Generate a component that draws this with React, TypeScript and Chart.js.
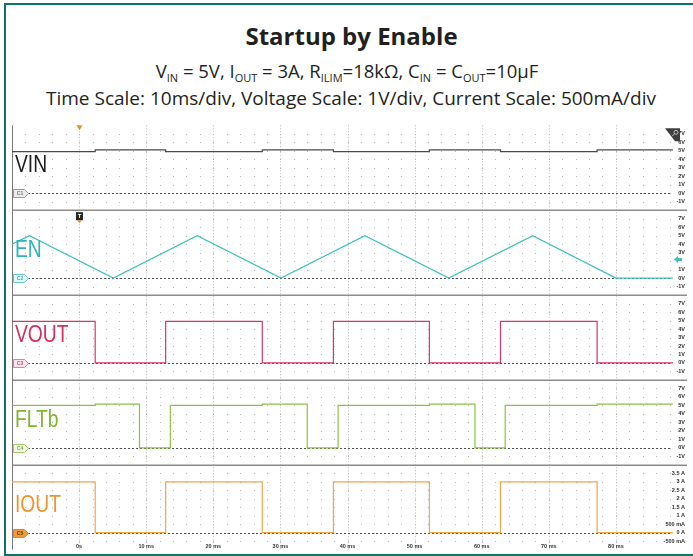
import React, { useEffect, useRef } from 'react';
import { Chart, registerables } from 'chart.js';

Chart.register(...registerables);

// ---------- DATA ----------
// time axis in ms (scope: 10 ms/div, -10 ms .. 90 ms)
const timeRange = [-10, 90];
const timeTicks = [0, 10, 20, 30, 40, 50, 60, 70, 80];
const timeTickLabels = ['0s', '10 ms', '20 ms', '30 ms', '40 ms', '50 ms', '60 ms', '70 ms', '80 ms'];

// VIN (V)
const vinTime = [-10, 2.4, 2.4, 12.9, 12.9, 27.3, 27.3, 37.9, 37.9, 52.2, 52.2, 62.8, 62.8, 77.2, 77.2, 88.5];
const vinValue = [4.9, 4.9, 5.1, 5.1, 4.9, 4.9, 5.1, 5.1, 4.9, 4.9, 5.1, 5.1, 4.9, 4.9, 5.1, 5.1];

// EN (V) - triangle drive
const enTime = [-10, -7.4, 5.1, 17.6, 30.1, 42.6, 55.1, 67.6, 80.0, 88.5];
const enValue = [4.0, 5.0, 0, 5.0, 0, 5.0, 0, 5.0, 0, 0];

// VOUT (V)
const voutTime = [-10, 2.4, 2.4, 12.9, 12.9, 27.3, 27.3, 37.9, 37.9, 52.2, 52.2, 62.8, 62.8, 77.2, 77.2, 88.5];
const voutValue = [4.9, 4.9, 0, 0, 4.9, 4.9, 0, 0, 4.9, 4.9, 0, 0, 4.9, 4.9, 0, 0];

// FLTb (V)
const fltTime = [-10, 2.4, 2.4, 9.0, 9.0, 13.6, 13.6, 27.3, 27.3, 34.0, 34.0, 38.6, 38.6, 52.2, 52.2, 59.0, 59.0, 63.5, 63.5, 77.2, 77.2, 88.5];
const fltValue = [5.0, 5.0, 5.15, 5.15, 0, 0, 5.0, 5.0, 5.15, 5.15, 0, 0, 5.0, 5.0, 5.15, 5.15, 0, 0, 5.0, 5.0, 5.15, 5.15];

// IOUT (A)
const ioutTime = [-10, 2.4, 2.4, 12.9, 12.9, 27.3, 27.3, 37.9, 37.9, 52.2, 52.2, 62.8, 62.8, 77.2, 77.2, 88.5];
const ioutValue = [3.0, 3.0, 0, 0, 3.0, 3.0, 0, 0, 3.0, 3.0, 0, 0, 3.0, 3.0, 0, 0];

// vertical scales
const voltRange = [-2, 8];
const voltTicks = [-1, 0, 1, 2, 3, 4, 5, 6, 7];
const voltTickLabels = ['-1V', '0V', '1V', '2V', '3V', '4V', '5V', '6V', '7V'];
const currentRange = [-1, 4];
const currentTicks = [-0.5, 0, 0.5, 1, 1.5, 2, 2.5, 3, 3.5];
const currentTickLabels = ['-500 mA', '0 A', '500 mA', '1 A', '1.5 A', '2 A', '2.5 A', '3 A', '3.5 A'];
const enTriggerLevel = 2.2;

// channels
const channelNames = ['VIN', 'EN', 'VOUT', 'FLTb', 'IOUT'];
const channelTags = ['C1', 'C2', 'C3', 'C4', 'C5'];
const traceColors = ['#4a4a4a', '#3fc0c0', '#d4386a', '#8ec044', '#f4a448'];
const nameColors = ['#1e1e1e', '#2db6b8', '#d3305b', '#80b52f', '#f0952e'];
const tagFills = ['#ececec', '#e4f7f7', '#fbe4eb', '#eff7e2', '#f39a38'];
const tagStrokes = ['#9a9a9a', '#62caca', '#e0809a', '#a6ca6c', '#e08a22'];
const tagTextColors = ['#777', '#4aaeb0', '#c9557a', '#7fa34a', '#5a3a10'];

const seriesTimes = [vinTime, enTime, voutTime, fltTime, ioutTime];
const seriesValues = [vinValue, enValue, voutValue, fltValue, ioutValue];
const isCurrent = [false, false, false, false, true];

const FONT = '"Liberation Sans", Arial, sans-serif';

const scopePlugin = {
  id: 'scopeDecor',
  beforeDatasetsDraw(chart: any) {
    const { ctx, chartArea: ca, scales } = chart;
    const xs = scales.x;
    ctx.save();
    // dot matrix grid
    ctx.fillStyle = '#b9b9b9';
    channelNames.forEach((_, i) => {
      const ys = scales['y' + i];
      const ticks = isCurrent[i] ? currentTicks : voltTicks;
      ticks.forEach((v) => {
        const py = Math.round(ys.getPixelForValue(v));
        for (let t = timeRange[0] + 2; t < timeRange[1]; t += 2) {
          const px = Math.round(xs.getPixelForValue(t));
          ctx.fillRect(px, py, 1, 1);
        }
      });
    });
    // major vertical dotted lines
    ctx.strokeStyle = '#bcbcbc';
    ctx.lineWidth = 1;
    ctx.setLineDash([1, 2]);
    timeTicks.forEach((t) => {
      const px = Math.round(xs.getPixelForValue(t)) + 0.5;
      ctx.beginPath();
      ctx.moveTo(px, ca.top);
      ctx.lineTo(px, ca.bottom);
      ctx.stroke();
    });
    // zero reference lines
    ctx.strokeStyle = '#505050';
    ctx.setLineDash([2, 2]);
    channelNames.forEach((_, i) => {
      const ys = scales['y' + i];
      const py = Math.round(ys.getPixelForValue(0)) + 0.5;
      ctx.beginPath();
      ctx.moveTo(ca.left + 16, py);
      ctx.lineTo(xs.getPixelForValue(88.3), py);
      ctx.stroke();
    });
    ctx.setLineDash([]);
    // panel separators
    ctx.strokeStyle = '#8c8c8c';
    ctx.lineWidth = 1.5;
    channelNames.forEach((_, i) => {
      if (i === 0) return;
      const ys = scales['y' + i];
      const py = Math.round(ys.top) + 0.25;
      ctx.beginPath();
      ctx.moveTo(ca.left, py);
      ctx.lineTo(ca.right + 10, py);
      ctx.stroke();
    });
    // left edge
    ctx.strokeStyle = '#7a7a7a';
    ctx.lineWidth = 1;
    ctx.beginPath();
    ctx.moveTo(ca.left + 0.5, ca.top);
    ctx.lineTo(ca.left + 0.5, ca.bottom);
    ctx.stroke();
    ctx.restore();
  },
  afterDatasetsDraw(chart: any) {
    const { ctx, chartArea: ca, scales } = chart;
    const xs = scales.x;
    ctx.save();
    // channel names
    channelNames.forEach((name, i) => {
      const ys = scales['y' + i];
      ctx.save();
      ctx.translate(ca.left + 3, ys.top + 47);
      ctx.scale(0.82, 1);
      ctx.font = '23.5px ' + FONT;
      ctx.fillStyle = nameColors[i];
      ctx.textBaseline = 'alphabetic';
      ctx.fillText(name, 0, 0);
      ctx.restore();
    });
    // channel tags at 0 level
    channelNames.forEach((_, i) => {
      const ys = scales['y' + i];
      const py = Math.round(ys.getPixelForValue(0)) + 0.5;
      const x0 = ca.left + 1.5;
      ctx.beginPath();
      ctx.moveTo(x0, py - 4);
      ctx.lineTo(x0 + 11, py - 4);
      ctx.lineTo(x0 + 15, py);
      ctx.lineTo(x0 + 11, py + 4);
      ctx.lineTo(x0, py + 4);
      ctx.closePath();
      ctx.fillStyle = tagFills[i];
      ctx.fill();
      ctx.strokeStyle = tagStrokes[i];
      ctx.lineWidth = 1;
      ctx.stroke();
      ctx.fillStyle = tagTextColors[i];
      ctx.font = 'bold 5px ' + FONT;
      ctx.textAlign = 'center';
      ctx.textBaseline = 'middle';
      ctx.fillText(channelTags[i], x0 + 6.5, py + 0.5);
    });
    // trigger position marker at top
    const tx = Math.round(xs.getPixelForValue(0)) + 0.5;
    ctx.fillStyle = '#f28b1e';
    ctx.beginPath();
    ctx.moveTo(tx - 3, ca.top);
    ctx.lineTo(tx + 3, ca.top);
    ctx.lineTo(tx, ca.top + 5);
    ctx.closePath();
    ctx.fill();
    // T marker on EN panel
    const enTop = scales.y1.top;
    ctx.fillStyle = '#262626';
    ctx.fillRect(tx - 3.5, enTop + 2, 7, 8);
    ctx.fillStyle = '#f28b1e';
    ctx.beginPath();
    ctx.moveTo(tx - 2.5, enTop + 10);
    ctx.lineTo(tx + 2.5, enTop + 10);
    ctx.lineTo(tx, enTop + 13);
    ctx.closePath();
    ctx.fill();
    ctx.fillStyle = '#ffffff';
    ctx.font = 'bold 6px ' + FONT;
    ctx.textAlign = 'center';
    ctx.textBaseline = 'middle';
    ctx.fillText('T', tx, enTop + 6.3);
    // EN trigger level arrow at right
    const ay = scales.y1.getPixelForValue(enTriggerLevel);
    const ax = ca.right - 9;
    ctx.fillStyle = '#3fc0c0';
    ctx.beginPath();
    ctx.moveTo(ax, ay);
    ctx.lineTo(ax + 4, ay - 3.5);
    ctx.lineTo(ax + 4, ay - 1.5);
    ctx.lineTo(ax + 8, ay - 1.5);
    ctx.lineTo(ax + 8, ay + 1.5);
    ctx.lineTo(ax + 4, ay + 1.5);
    ctx.lineTo(ax + 4, ay + 3.5);
    ctx.closePath();
    ctx.fill();
    // top-right icon
    ctx.fillStyle = '#3e3e3e';
    ctx.beginPath();
    ctx.moveTo(ca.right - 18, ca.top + 3);
    ctx.lineTo(ca.right - 3, ca.top + 3);
    ctx.lineTo(ca.right - 3, ca.top + 16);
    ctx.lineTo(ca.right - 8, ca.top + 16);
    ctx.closePath();
    ctx.fill();
    ctx.strokeStyle = '#dcdcdc';
    ctx.lineWidth = 0.8;
    ctx.beginPath();
    ctx.arc(ca.right - 7, ca.top + 7, 2, 0, Math.PI * 2);
    ctx.moveTo(ca.right - 8.5, ca.top + 8.5);
    ctx.lineTo(ca.right - 11, ca.top + 11);
    ctx.stroke();
    // time labels along the bottom
    ctx.fillStyle = '#333333';
    ctx.font = 'bold 5.5px ' + FONT;
    ctx.textAlign = 'center';
    ctx.textBaseline = 'alphabetic';
    timeTicks.forEach((t, i) => {
      ctx.fillText(timeTickLabels[i], xs.getPixelForValue(t), ca.bottom - 2);
    });
    ctx.restore();
  },
};

function makeTickCallback(i: number) {
  return (value: any) => {
    const ticks = isCurrent[i] ? currentTicks : voltTicks;
    const labels = isCurrent[i] ? currentTickLabels : voltTickLabels;
    const idx = ticks.findIndex((v) => Math.abs(v - Number(value)) < 1e-6);
    if (idx < 0) return '';
    if (i === 1 && Math.abs(Number(value) - 2) < 1e-6) return '';
    return labels[idx];
  };
}

export default function App() {
  const ref = useRef<HTMLCanvasElement | null>(null);

  useEffect(() => {
    if (!ref.current) return;
    const scales: any = {
      x: { type: 'linear', min: timeRange[0], max: timeRange[1], display: false },
    };
    channelNames.forEach((_, i) => {
      const range = isCurrent[i] ? currentRange : voltRange;
      scales['y' + i] = {
        type: 'linear',
        position: 'right',
        stack: 'scope',
        stackWeight: 1,
        min: range[0],
        max: range[1],
        grid: { display: false, drawTicks: false },
        border: { display: false },
        ticks: {
          mirror: true,
          padding: 2,
          stepSize: isCurrent[i] ? 0.5 : 1,
          autoSkip: false,
          color: '#2e2e2e',
          font: { family: FONT, size: 5.5, weight: 'bold' },
          callback: makeTickCallback(i),
        },
      };
    });
    const datasets = channelNames.map((name, i) => ({
      label: name,
      data: seriesTimes[i].map((t, k) => ({ x: t, y: seriesValues[i][k] })),
      yAxisID: 'y' + i,
      borderColor: traceColors[i],
      borderWidth: 1.2,
      pointRadius: 0,
      fill: false,
      tension: 0,
    }));
    const chart = new Chart(ref.current, {
      type: 'line',
      data: { datasets },
      options: {
        responsive: false,
        animation: false,
        events: [],
        layout: { padding: 0, autoPadding: false },
        plugins: {
          legend: { display: false },
          tooltip: { enabled: false },
          title: { display: false },
        },
        scales,
      } as any,
      plugins: [scopePlugin],
    });
    return () => chart.destroy();
  }, []);

  const sub = (s: string) => (
    <span style={{ fontSize: 11, verticalAlign: -3.5, lineHeight: 0 }}>{s}</span>
  );

  return (
    <div
      style={{
        position: 'absolute',
        left: 0,
        top: 0,
        width: 693,
        height: 556,
        background: '#ffffff',
        overflow: 'hidden',
        fontFamily: '"Open Sans", sans-serif',
        color: '#231f20',
      }}
    >
      <div
        style={{
          position: 'absolute',
          left: 4,
          top: 3,
          width: 720,
          height: 553,
          boxSizing: 'border-box',
          border: '2.5px solid #10736a',
        }}
      />
      <div
        style={{
          position: 'absolute',
          left: 0,
          top: 23.5,
          width: 703,
          textAlign: 'center',
          fontSize: 24,
          lineHeight: '24px',
          fontWeight: 700,
          whiteSpace: 'nowrap',
        }}
      >
        Startup by Enable
      </div>
      <div
        style={{
          position: 'absolute',
          left: 0,
          top: 62,
          width: 694,
          textAlign: 'center',
          fontSize: 18.5,
          lineHeight: '18.5px',
          whiteSpace: 'nowrap',
        }}
      >
        V{sub('IN')} = 5V, I{sub('OUT')} = 3A, R{sub('ILIM')}=18kΩ, C{sub('IN')} = C{sub('OUT')}=10µF
      </div>
      <div
        style={{
          position: 'absolute',
          left: 0,
          top: 88.5,
          width: 702,
          textAlign: 'center',
          fontSize: 19,
          lineHeight: '19px',
          whiteSpace: 'nowrap',
        }}
      >
        Time Scale: 10ms/div, Voltage Scale: 1V/div, Current Scale: 500mA/div
      </div>
      <canvas
        ref={ref}
        width={675}
        height={435}
        style={{ position: 'absolute', left: 12, top: 120, width: 675, height: 435 }}
      />
    </div>
  );
}
